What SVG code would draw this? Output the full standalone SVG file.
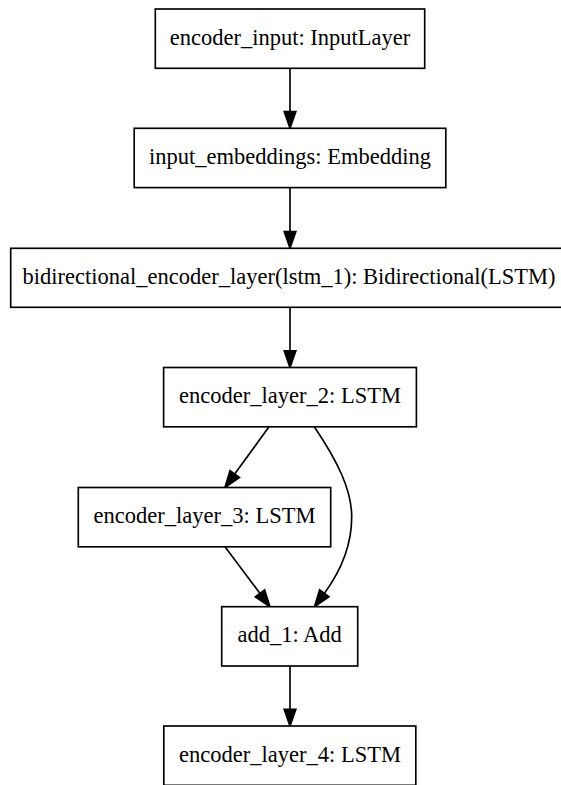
<svg xmlns="http://www.w3.org/2000/svg" width="561" height="785" viewBox="0 0 561 785">
<style>
.box{fill:#fff;stroke:#000;stroke-width:1.66}
.lbl{font-family:"Liberation Serif","Times New Roman",serif;font-size:22.5px;fill:#000;text-anchor:middle}
.edge{fill:none;stroke:#000;stroke-width:1.66}
</style>
<defs>
<marker id="ah" markerUnits="userSpaceOnUse" viewBox="-1 -7 19 14" markerWidth="19" markerHeight="14" refX="0" refY="0" orient="auto" overflow="visible">
<path d="M0,-5.8 L16.6,0 L0,5.8 Z" fill="#000" stroke="#000" stroke-width="1.66"/>
</marker>
</defs>
<rect width="561" height="785" fill="#fff"/>
<g id="connectors">
<path class="edge" d="M290,68.3 V111.7" marker-end="url(#ah)"/>
<path class="edge" d="M290,187.6 V231.7" marker-end="url(#ah)"/>
<path class="edge" d="M290,307.3 V350.9" marker-end="url(#ah)"/>
<path class="edge" d="M269,426.8 L234.7,474.1" marker-end="url(#ah)"/>
<path class="edge" d="M314.3,426.8 C338,462 351.7,490 351.7,517 C351.7,545 341.5,570 324.3,593.4" marker-end="url(#ah)"/>
<path class="edge" d="M225,546.8 L260,593.4" marker-end="url(#ah)"/>
<path class="edge" d="M290,666 V709.4" marker-end="url(#ah)"/>
</g>
<g id="encoder_input">
<rect class="box" x="155.3" y="9" width="269.4" height="59.3"/>
<text class="lbl" x="290" y="44.6">encoder_input: InputLayer</text>
</g>
<g id="input_embeddings">
<rect class="box" x="134.2" y="128.3" width="311.6" height="59.3"/>
<text class="lbl" x="290" y="163.8">input_embeddings: Embedding</text>
</g>
<g id="bidirectional_encoder_layer">
<rect class="box" x="10.7" y="248.3" width="558.6" height="59"/>
<text class="lbl" x="289" y="283.6">bidirectional_encoder_layer(lstm_1): Bidirectional(LSTM)</text>
</g>
<g id="encoder_layer_2">
<rect class="box" x="163.6" y="367.5" width="252.8" height="59.3"/>
<text class="lbl" x="290" y="403.1">encoder_layer_2: LSTM</text>
</g>
<g id="encoder_layer_3">
<rect class="box" x="78.3" y="487.5" width="252.4" height="59.3"/>
<text class="lbl" x="204.5" y="522.9">encoder_layer_3: LSTM</text>
</g>
<g id="add_1">
<rect class="box" x="221.7" y="606.7" width="136" height="59.3"/>
<text class="lbl" x="289.7" y="642.2">add_1: Add</text>
</g>
<g id="encoder_layer_4">
<rect class="box" x="163.8" y="726" width="252" height="59.3"/>
<text class="lbl" x="290" y="761.6">encoder_layer_4: LSTM</text>
</g>
</svg>
